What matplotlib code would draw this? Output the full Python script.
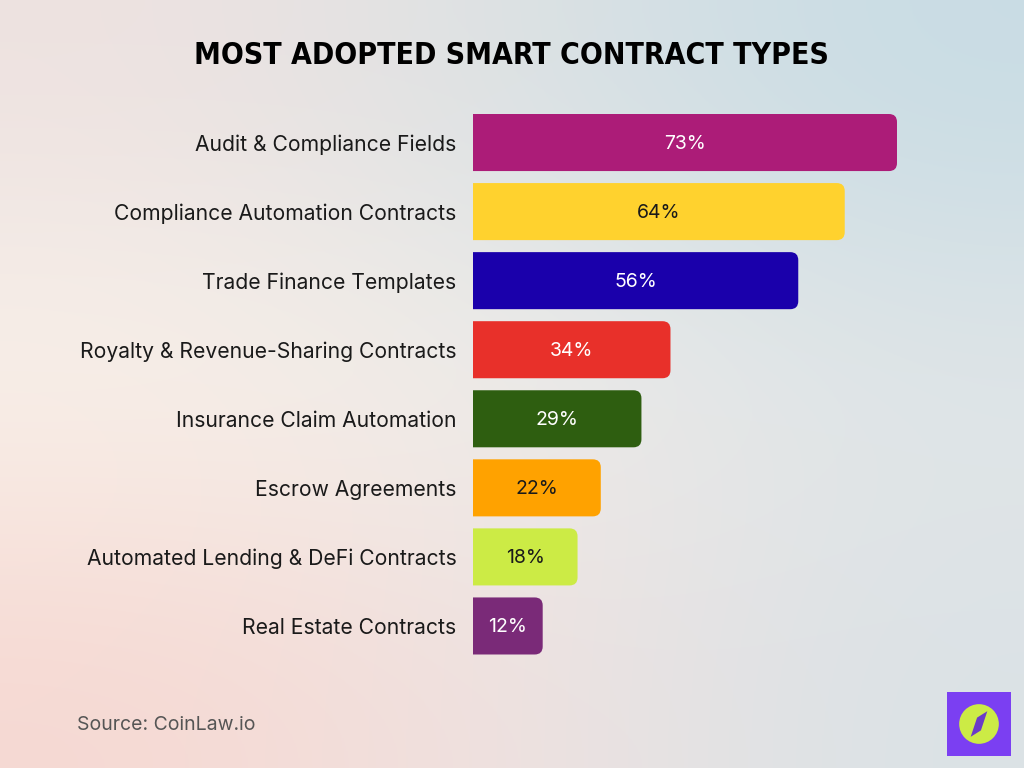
import matplotlib
matplotlib.use("Agg")
import matplotlib.pyplot as plt
import numpy as np
from matplotlib.patches import FancyBboxPatch, Rectangle, Circle, Polygon

categories = [
    "Audit & Compliance Fields",
    "Compliance Automation Contracts",
    "Trade Finance Templates",
    "Royalty & Revenue-Sharing Contracts",
    "Insurance Claim Automation",
    "Escrow Agreements",
    "Automated Lending & DeFi Contracts",
    "Real Estate Contracts",
]
values = [73, 64, 56, 34, 29, 22, 18, 12]
bar_colors = ["#AC1C78", "#FFD22E", "#1A00AB", "#E8302A", "#2E5E10", "#FFA200", "#CCEB45", "#7A2A78"]
text_colors = ["white", "#1a1a1a", "white", "white", "white", "#1a1a1a", "#1a1a1a", "white"]

W, H = 1024, 768
fig = plt.figure(figsize=(W / 100, H / 100), dpi=100)

# background gradient
bg = fig.add_axes([0, 0, 1, 1])
corners = np.array([
    [[238, 226, 224], [220, 226, 228], [200, 220, 228]],
    [[250, 244, 236], [240, 238, 234], [226, 230, 232]],
    [[246, 216, 210], [240, 226, 224], [218, 226, 230]],
]) / 255.0
bg.imshow(corners, extent=[0, 1, 0, 1], interpolation="bicubic", aspect="auto")
bg.set_xlim(0, 1)
bg.set_ylim(0, 1)
bg.axis("off")

# main axes: 1 unit = ~5.81 px, rows 69 px apart
x0 = 473
xmax = 80
px_per_unit = (897 - 473) / 73
ax_w = xmax * px_per_unit
top_px, bot_px = 108, 660.5
ax = fig.add_axes([x0 / W, (H - bot_px) / H, ax_w / W, (bot_px - top_px) / H])
ax.patch.set_alpha(0)
ax.set_xlim(0, xmax)
ax.set_ylim(len(categories) - 0.5, -0.5)

bar_h = 57 / 69
rad_px = 8
y_per_px = 1 / 69
x_per_px = 1 / px_per_unit
ext = 3  # start left of the axes so the left corners get clipped square
for i, (v, c, tc) in enumerate(zip(values, bar_colors, text_colors)):
    y = i - bar_h / 2
    ax.add_patch(FancyBboxPatch((-ext, y), v + ext, bar_h,
                                boxstyle=f"round,pad=0,rounding_size={rad_px * x_per_px}",
                                mutation_aspect=y_per_px / x_per_px,
                                facecolor=c, edgecolor="none", clip_on=True))
    ax.text(v / 2, i + 0.02, f"{v}%", ha="center", va="center",
            fontsize=14, color=tc, family="Inter")

ax.set_yticks(range(len(categories)))
ax.set_yticklabels(categories, fontsize=15.2, family="Inter", color="#1a1a1a")
ax.tick_params(axis="y", length=0, pad=12)
ax.set_xticks([])
for s in ax.spines.values():
    s.set_visible(False)

fig.text(511 / W, 1 - 55 / H, "MOST ADOPTED SMART CONTRACT TYPES", ha="center", va="center",
         fontsize=21.6, fontweight="bold", family="DejaVu Sans", fontstretch="condensed",
         color="black")

fig.text(77 / W, 1 - 725 / H, "Source: CoinLaw.io", ha="left", va="center",
         fontsize=14, family="Inter", color="#555555")

# logo
lg = fig.add_axes([947 / W, (H - 756) / H, 64 / W, 64 / H])
lg.set_xlim(0, 1)
lg.set_ylim(0, 1)
lg.axis("off")
lg.add_patch(Rectangle((0, 0), 1, 1, facecolor="#7B3FF2", edgecolor="none"))
lg.add_patch(Circle((0.5, 0.5), 0.31, facecolor="#CCEB45", edgecolor="none"))
lg.add_patch(Polygon([(0.37, 0.3), (0.47, 0.6), (0.63, 0.7), (0.53, 0.4)], facecolor="#6A3AC8", edgecolor="none"))

fig.savefig("out.png", dpi=100)
